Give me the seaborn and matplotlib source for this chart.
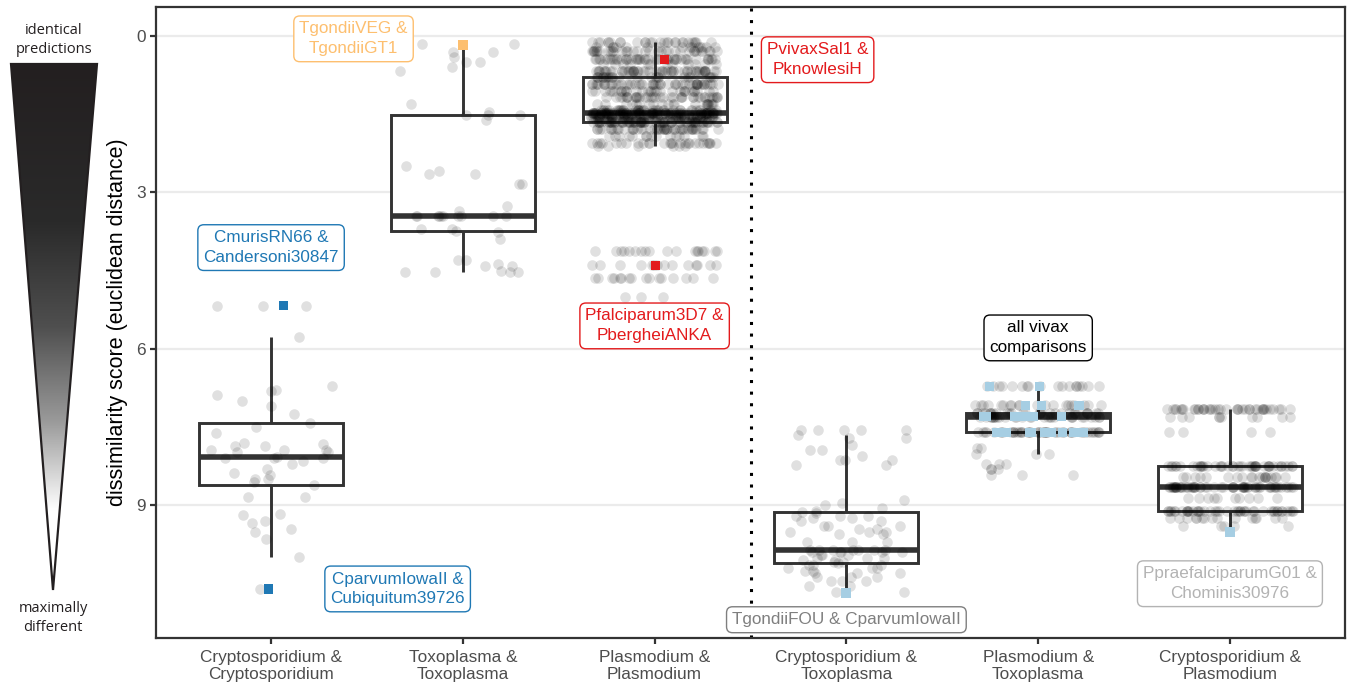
import numpy as np
import pandas as pd
import matplotlib
matplotlib.use("Agg")
import matplotlib.pyplot as plt
import seaborn as sns
from matplotlib.colors import LinearSegmentedColormap
from matplotlib.patches import Polygon

sns.set_theme(style="white")
plt.rcParams['font.family'] = ['Liberation Sans', 'DejaVu Sans']

# ---- categories -------------------------------------------------------
categories = [
    "Cryptosporidium &\nCryptosporidium",
    "Toxoplasma &\nToxoplasma",
    "Plasmodium &\nPlasmodium",
    "Cryptosporidium &\nToxoplasma",
    "Plasmodium &\nToxoplasma",
    "Cryptosporidium &\nPlasmodium",
]

# ---- pairwise dissimilarity scores (grey points) ----------------------
crypto_crypto = [5.17, 5.17, 5.17, 5.78, 6.72, 6.79, 6.8, 6.88, 6.99, 7.1, 7.25,
                 7.42, 7.5, 7.62, 7.81, 7.83, 7.87, 7.87, 7.93, 7.94, 7.94, 7.97,
                 7.97, 8.08, 8.09, 8.09, 8.09, 8.15, 8.2, 8.3, 8.38, 8.42, 8.5,
                 8.5, 8.55, 8.6, 8.84, 8.84, 9.16, 9.19, 9.29, 9.34, 9.45, 9.51,
                 9.64, 9.99, 10.6]

toxo_toxo = [0.15, 0.15, 0.31, 0.31, 0.41, 0.5, 0.5, 0.6, 0.67, 1.31, 1.47,
             1.52, 1.52, 1.52, 1.61, 2.5, 2.59, 2.65, 2.65, 2.85, 2.85, 3.27,
             3.36, 3.46, 3.46, 3.46, 3.46, 3.46, 3.46, 3.46, 3.46, 3.46, 3.46,
             3.71, 3.71, 3.75, 3.77, 3.9, 4.29, 4.29, 4.38, 4.42, 4.42, 4.5,
             4.52, 4.52, 4.52, 4.52]

plas_plas_levels = [0.13, 0.22, 0.3, 0.45, 0.55, 0.68, 0.8, 0.92, 1.05, 1.17,
                    1.3, 1.42, 1.48, 1.56, 1.65, 1.78, 1.92, 2.05, 2.12,
                    4.12, 4.4, 4.65, 5.0]
plas_plas_counts = [27, 15, 33, 45, 12, 51, 24, 48, 30, 36,
                    21, 36, 90, 90, 68, 45, 15, 27, 6,
                    18, 14, 16, 3]

crypto_toxo_levels = [7.55, 7.66, 7.7, 7.85, 7.94, 8.05, 8.13, 8.23, 8.9, 8.95,
                      9.0, 9.05, 9.1, 9.12, 9.15, 9.2, 9.25, 9.3, 9.4, 9.45,
                      9.5, 9.55, 9.7, 9.85, 9.9, 9.95, 10.0, 10.05, 10.08, 10.1,
                      10.15, 10.2, 10.25, 10.3, 10.38, 10.45, 10.55, 10.65]
crypto_toxo_counts = [5, 1, 2, 1, 2, 1, 3, 2, 1, 1,
                      1, 1, 1, 1, 1, 3, 2, 2, 3, 2,
                      3, 2, 3, 7, 5, 3, 3, 2, 2, 1,
                      3, 3, 2, 3, 3, 3, 2, 2]

plas_toxo_levels = [6.72, 7.08, 7.23, 7.3, 7.6, 7.9, 8.02, 8.2, 8.3, 8.42]
plas_toxo_counts = [18, 20, 30, 30, 50, 2, 3, 3, 3, 3]

crypto_plas_levels = [7.15, 7.3, 7.6, 8.25, 8.45, 8.65, 8.85, 9.1, 9.25, 9.4]
crypto_plas_counts = [40, 10, 4, 45, 20, 60, 10, 45, 15, 5]

# ---- highlighted comparisons (coloured squares) -----------------------
hl_group = [0, 0, 1, 2, 2, 3, 5]
hl_score = [5.17, 10.6, 0.17, 0.45, 4.4, 10.67, 9.5]
hl_kind = ["blue", "blue", "orange", "red", "red", "lightblue", "lightblue"]

vivax_levels = [6.72, 7.08, 7.3, 7.6]
vivax_counts = [2, 3, 10, 12]

palette = {"blue": "#1f78b4", "orange": "#fdbf6f", "red": "#e31a1c",
           "lightblue": "#a6cee3"}

# ---- annotation labels ------------------------------------------------
label_text = ["TgondiiVEG &\nTgondiiGT1", "CmurisRN66 &\nCandersoni30847",
              "CparvumIowaII &\nCubiquitum39726", "PvivaxSal1 &\nPknowlesiH",
              "Pfalciparum3D7 &\nPbergheiANKA", "all vivax\ncomparisons",
              "TgondiiFOU & CparvumIowaII",
              "PpraefalciparumG01 &\nChominis30976"]
label_x = [0.43, 0.0, 0.66, 2.85, 2.0, 4.0, 3.0, 5.0]
label_y = [0.06, 4.06, 10.6, 0.46, 5.56, 5.79, 11.19, 10.5]
label_color = ["#fdbf6f", "#1f78b4", "#1f78b4", "#e31a1c", "#e31a1c",
               "#000000", "#7f7f7f", "#b3b3b3"]

# ---- assemble tables --------------------------------------------------
grey_scores = {
    categories[0]: np.array(crypto_crypto),
    categories[1]: np.array(toxo_toxo),
    categories[2]: np.repeat(plas_plas_levels, plas_plas_counts),
    categories[3]: np.repeat(crypto_toxo_levels, crypto_toxo_counts),
    categories[4]: np.repeat(plas_toxo_levels, plas_toxo_counts),
    categories[5]: np.repeat(crypto_plas_levels, crypto_plas_counts),
}
grey = pd.concat([pd.DataFrame({"group": g, "score": s})
                  for g, s in grey_scores.items()], ignore_index=True)

hl = pd.DataFrame({"group": [categories[i] for i in hl_group],
                   "score": hl_score, "kind": hl_kind})
vivax = pd.DataFrame({"group": categories[4],
                      "score": np.repeat(vivax_levels, vivax_counts),
                      "kind": "lightblue"})

everything = pd.concat([grey, hl[["group", "score"]], vivax[["group", "score"]]],
                       ignore_index=True)

# ---- figure -----------------------------------------------------------
W, H = 1349, 683
fig = plt.figure(figsize=(W / 100, H / 100), dpi=100)
ax = fig.add_axes([156 / W, 45 / H, 1189 / W, 631 / H])

np.random.seed(7)
sns.boxplot(data=everything, x="group", y="score", order=categories,
            width=0.75, whis=1.5, showfliers=False, showcaps=False,
            color="white", linecolor="#333333", linewidth=2.1,
            medianprops=dict(linewidth=4.0, color="#333333"),
            saturation=1, ax=ax)

sns.stripplot(data=grey, x="group", y="score", order=categories,
              color="black", alpha=0.12, size=7.6, jitter=0.33,
              linewidth=0, ax=ax, zorder=3)

sns.stripplot(data=hl, x="group", y="score", order=categories, hue="kind",
              palette=palette, marker="s", size=6.6, jitter=0.1,
              linewidth=0, legend=False, ax=ax, zorder=4)
sns.stripplot(data=vivax, x="group", y="score", order=categories, hue="kind",
              palette=palette, marker="s", size=6.6, jitter=0.3,
              linewidth=0, legend=False, ax=ax, zorder=4)

ax.set_ylim(11.54, -0.55)
ax.set_xlim(-0.6, 5.6)
ax.set_yticks([0, 3, 6, 9])
ax.yaxis.grid(True, color="#ebebeb", linewidth=1.6, zorder=0)
ax.xaxis.grid(False)
ax.set_axisbelow(True)

ax.axvline(2.5, color="black", linewidth=2.2, linestyle=(0, (1, 2.8)),
           dash_capstyle="butt", zorder=2)

for txt, x, y, c in zip(label_text, label_x, label_y, label_color):
    ax.text(x, y, txt, ha="center", va="center", color=c, fontsize=12.3,
            linespacing=1.4, zorder=6,
            bbox=dict(boxstyle="round,pad=0.32,rounding_size=0.35",
                      facecolor="white", edgecolor=c, linewidth=1.0))

ax.set_xlabel("")
ax.set_ylabel("dissimilarity score (euclidean distance)", fontsize=15.5,
              color="black", labelpad=6)
ax.tick_params(axis="both", which="both", length=4.5, width=1.6,
               color="#333333", labelcolor="#4d4d4d", labelsize=12.4,
               direction="out", pad=3, bottom=True, left=True)
ax.tick_params(axis="x", pad=4)
for sp in ax.spines.values():
    sp.set_visible(True)
    sp.set_color("#333333")
    sp.set_linewidth(1.6)

# ---- gradient wedge on the left ---------------------------------------
lax = fig.add_axes([0, 0, 140 / W, 1])
lax.set_xlim(0, 140)
lax.set_ylim(H, 0)
lax.axis("off")
top_y, tip_y = 64, 590
wedge_cmap = LinearSegmentedColormap.from_list(
    "wedge", [(0.0, "#231f20"), (0.3, "#2a2a2a"), (0.5, "#4f4f4f"),
              (0.68, "#9a9a9a"), (0.85, "#ffffff"), (1.0, "#ffffff")])
grad = np.linspace(0, 1, 256).reshape(-1, 1)
img = lax.imshow(grad, cmap=wedge_cmap, aspect="auto",
                 extent=(10, 98, tip_y, top_y), origin="upper", zorder=1)
wedge = Polygon([(11, top_y), (97, top_y), (53, tip_y)], closed=True,
                facecolor="none", edgecolor="#231f20", linewidth=1.6, zorder=2)
lax.add_patch(wedge)
img.set_clip_path(wedge)
lax.text(54, 40, "identical\npredictions", ha="center", va="center",
         fontsize=10.5, family=["Open Sans", "DejaVu Sans"],
         color="#231f20", linespacing=1.45)
lax.text(53, 618, "maximally\ndifferent", ha="center", va="center",
         fontsize=10.5, family=["Open Sans", "DejaVu Sans"],
         color="#231f20", linespacing=1.45)

fig.savefig("out.png", dpi=100)
